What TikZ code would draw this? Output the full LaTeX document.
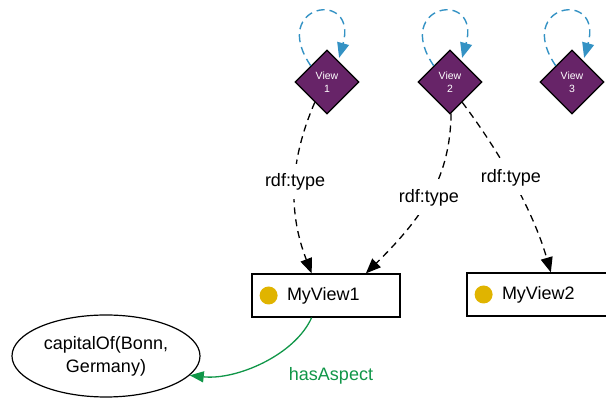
\documentclass[tikz,border=0pt]{standalone}
\usepackage{fontspec}
\setmainfont{Liberation Sans}
\usetikzlibrary{shapes.geometric,arrows.meta,positioning}
\definecolor{viewpurple}{RGB}{103,36,104}
\definecolor{loopblue}{RGB}{52,146,196}
\definecolor{dotyellow}{RGB}{224,180,0}
\definecolor{aspectgreen}{RGB}{16,150,72}

\begin{document}
\begin{tikzpicture}[x=1pt, y=-1pt, font=\fontsize{18}{23}\selectfont,
    view/.style={diamond, draw=black, line width=1.2pt, fill=viewpurple, text=white,
        minimum size=64pt, inner sep=0pt, align=center, font=\fontsize{10.5}{13}\selectfont},
    viewbox/.style={rectangle, draw=black, line width=1.2pt, minimum width=148pt, minimum height=43pt},
    dot/.style={circle, fill=dotyellow, minimum size=18pt, inner sep=0pt},
    typeedge/.style={-{Triangle[length=15pt,width=12pt]}, dash pattern=on 7pt off 5pt, line width=1.3pt},
    rdflabel/.style={fill=white, inner xsep=3pt, inner ysep=9pt},
    selfloop/.style={-{Triangle[length=15pt,width=12pt]}, draw=loopblue, dash pattern=on 8pt off 5pt,
        line width=1.4pt, shorten >=3pt}]
    \useasboundingbox (0,0) rectangle (606,398);
    \clip (0,0) rectangle (606,398);

    % views
    \node[view] (view1) at (327,82) {View\\1};
    \node[view] (view2) at (450,82) {View\\2};
    \node[view] (view3) at (572,82) {View\\3};
    \foreach \v in {view1,view2,view3}
        \draw[selfloop] (\v.135) .. controls +(-42,-62) and +(20,-72) .. (\v.62);

    % view classes
    \node[viewbox] (myview1) at (326,295.5) {};
    \node[dot, right=8pt of myview1.west] (dot1) {};
    \node[right=9pt of dot1, inner sep=0pt] (name1) {MyView1};

    \node[viewbox] (myview2) at (541,294.5) {};
    \node[dot, right=8pt of myview2.west] (dot2) {};
    \node[right=9pt of dot2, inner sep=0pt] (name2) {MyView2};

    \node[ellipse, draw, line width=1.2pt, minimum width=188pt, minimum height=82pt, align=center]
        (capital) at (106,356) {capitalOf(Bonn,\\Germany)};

    % rdf:type
    \draw[typeedge] (view1.239) .. controls +(-25,58) and +(-24,-62) .. (myview1.123)
        node[rdflabel, pos=0.47] {rdf:type};
    \draw[typeedge] (view2.272) .. controls +(-1,62) and +(60,-59) .. (myview1.29)
        node[rdflabel, pos=0.52] {rdf:type};
    \draw[typeedge] (view2.-59) .. controls +(25,33) and +(-21,-73) .. (myview2.66)
        node[rdflabel, pos=0.53] {rdf:type};

    % aspect
    \draw[-{Triangle[length=14pt,width=11pt]}, draw=aspectgreen, line width=1.3pt]
        (myview1.-123) .. controls +(-17,38) and +(46,5) .. (capital.-13);
    \node[text=aspectgreen] (aspect) at (331,376) {hasAspect};
\end{tikzpicture}
\end{document}
